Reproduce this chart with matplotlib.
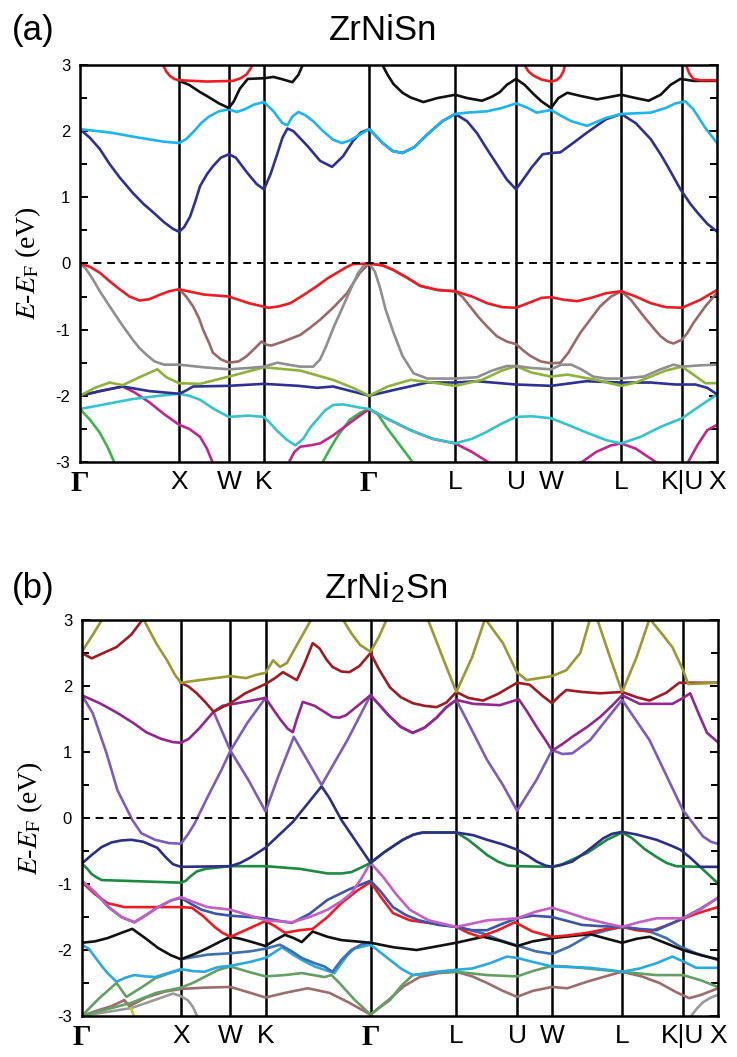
import matplotlib
matplotlib.use("Agg")
import matplotlib.pyplot as plt
from matplotlib.ticker import MultipleLocator

plt.rcParams["font.family"] = ["Liberation Sans", "DejaVu Sans"]
plt.rcParams["mathtext.fontset"] = "stix"
plt.rcParams["axes.unicode_minus"] = False

# high-symmetry path (units of 2pi/a)
KPTS = [0.0, 1.0, 1.5, 1.854, 2.914, 3.780, 4.393, 4.746, 5.453, 6.066, 6.419]
KLABELS = ["Γ", "X", "W", "K", "Γ", "L", "U", "W", "L", "K|U", "X"]
YTICKS = [-3, -2, -1, 0, 1, 2, 3]

# ---------------- (a) ZrNiSn : (k, E) pairs ----------------
A_LBLUE = [(0, 2.03), (0.3, 1.98), (0.6, 1.9), (0.85, 1.84), (1.0, 1.82), (1.07, 1.88), (1.15, 2.0),
           (1.22, 2.12), (1.3, 2.22), (1.4, 2.3), (1.5, 2.33), (1.58, 2.29), (1.66, 2.33), (1.75, 2.4),
           (1.854, 2.44), (1.95, 2.3), (2.04, 2.12), (2.09, 2.09), (2.14, 2.22), (2.2, 2.29), (2.27, 2.24),
           (2.35, 2.15), (2.45, 2.0), (2.55, 1.87), (2.64, 1.82), (2.72, 1.86), (2.8, 1.93), (2.914, 2.03),
           (2.98, 1.93), (3.05, 1.82), (3.15, 1.7), (3.25, 1.67), (3.37, 1.76), (3.5, 1.95), (3.65, 2.15),
           (3.78, 2.26), (3.9, 2.28), (4.1, 2.3), (4.25, 2.35), (4.393, 2.42), (4.5, 2.36), (4.6, 2.28),
           (4.746, 2.32), (4.85, 2.23), (4.95, 2.15), (5.11, 2.08), (5.22, 2.15), (5.3, 2.2), (5.453, 2.26),
           (5.6, 2.27), (5.75, 2.28), (5.9, 2.35), (6.0, 2.42), (6.1, 2.45), (6.18, 2.33), (6.3, 2.05),
           (6.419, 1.82)]
A_NAVY_UP = [(0, 2.03), (0.1, 1.9), (0.2, 1.73), (0.3, 1.5), (0.4, 1.3), (0.53, 1.07), (0.64, 0.9),
             (0.74, 0.77), (0.85, 0.62), (0.94, 0.52), (1.0, 0.48), (1.05, 0.55), (1.11, 0.71), (1.16, 0.93),
             (1.21, 1.17), (1.28, 1.35), (1.34, 1.47), (1.42, 1.6), (1.5, 1.65), (1.57, 1.6), (1.68, 1.38),
             (1.78, 1.2), (1.854, 1.12), (1.92, 1.35), (1.98, 1.62), (2.04, 1.9), (2.09, 2.04), (2.15, 2.0),
             (2.29, 1.78), (2.42, 1.55), (2.54, 1.46), (2.65, 1.62), (2.75, 1.85), (2.83, 1.98), (2.914, 2.03),
             (2.98, 1.93), (3.05, 1.82), (3.15, 1.7), (3.25, 1.67), (3.37, 1.76), (3.5, 1.95), (3.65, 2.15),
             (3.78, 2.26), (3.9, 2.15), (4.0, 1.97), (4.1, 1.73), (4.2, 1.5), (4.3, 1.27), (4.393, 1.12),
             (4.47, 1.28), (4.55, 1.45), (4.66, 1.65), (4.75, 1.67), (4.84, 1.68), (4.95, 1.8), (5.11, 1.98),
             (5.3, 2.18), (5.453, 2.26), (5.6, 2.12), (5.75, 1.88), (5.85, 1.65), (5.92, 1.47), (6.05, 1.12),
             (6.15, 0.9), (6.22, 0.77), (6.32, 0.6), (6.419, 0.48)]
A_BLACK_UP1 = [(1.0, 2.76), (1.1, 2.7), (1.2, 2.6), (1.28, 2.53), (1.4, 2.42), (1.5, 2.35), (1.55, 2.45),
               (1.61, 2.64), (1.69, 2.79), (1.854, 2.8), (1.95, 2.82), (2.05, 2.78), (2.14, 2.74), (2.2, 2.85),
               (2.25, 3.02)]
A_BLACK_UP2 = [(3.04, 3.02), (3.1, 2.85), (3.16, 2.71), (3.25, 2.58), (3.33, 2.51), (3.46, 2.44), (3.6, 2.5),
               (3.78, 2.55), (3.9, 2.5), (4.05, 2.46), (4.15, 2.52), (4.23, 2.59), (4.3, 2.7), (4.393, 2.79),
               (4.48, 2.7), (4.57, 2.56), (4.65, 2.45), (4.746, 2.35), (4.82, 2.5), (4.91, 2.58), (5.05, 2.53),
               (5.21, 2.48), (5.35, 2.52), (5.453, 2.55), (5.6, 2.5), (5.73, 2.46), (5.85, 2.55), (5.95, 2.7),
               (6.05, 2.79), (6.18, 2.76), (6.419, 2.76)]
A_RED_UP1 = [(0.83, 3.02), (0.87, 2.9), (0.91, 2.83), (0.95, 2.79), (1.0, 2.77), (1.28, 2.75), (1.54, 2.76),
             (1.62, 2.8), (1.68, 2.86), (1.72, 2.95), (1.74, 3.02)]
A_RED_UP2 = [(4.47, 3.02), (4.52, 2.9), (4.57, 2.84), (4.65, 2.78), (4.746, 2.75), (4.8, 2.77), (4.84, 2.82),
             (4.87, 2.9), (4.89, 3.02)]
A_RED_UP3 = [(6.1, 3.02), (6.14, 2.87), (6.18, 2.79), (6.25, 2.77), (6.419, 2.77)]
A_RED_VB = [(0, 0), (0.1, -0.05), (0.2, -0.14), (0.3, -0.27), (0.4, -0.39), (0.5, -0.5), (0.6, -0.56),
            (0.7, -0.54), (0.81, -0.47), (0.9, -0.42), (1.0, -0.39), (1.12, -0.43), (1.25, -0.47), (1.5, -0.5),
            (1.7, -0.6), (1.9, -0.67), (2.0, -0.65), (2.12, -0.6), (2.25, -0.48), (2.39, -0.34), (2.5, -0.22),
            (2.59, -0.14), (2.68, -0.06), (2.75, -0.01), (2.914, 0), (3.05, -0.03), (3.16, -0.1), (3.3, -0.22),
            (3.43, -0.34), (3.6, -0.4), (3.78, -0.42), (3.95, -0.5), (4.1, -0.6), (4.25, -0.66), (4.393, -0.67),
            (4.55, -0.58), (4.65, -0.52), (4.746, -0.51), (4.88, -0.55), (5.01, -0.57), (5.15, -0.52),
            (5.3, -0.45), (5.453, -0.42), (5.6, -0.5), (5.75, -0.6), (5.9, -0.66), (6.066, -0.67),
            (6.25, -0.55), (6.419, -0.4)]
A_GRAY = [(0, 0), (0.06, -0.08), (0.13, -0.24), (0.2, -0.42), (0.3, -0.65), (0.42, -0.92), (0.53, -1.15),
          (0.6, -1.28), (0.67, -1.38), (0.75, -1.48), (0.85, -1.53), (1.0, -1.53), (1.25, -1.57), (1.5, -1.6),
          (1.7, -1.58), (1.854, -1.56), (1.99, -1.5), (2.1, -1.53), (2.22, -1.56), (2.35, -1.56), (2.42, -1.45),
          (2.48, -1.25), (2.56, -0.95), (2.65, -0.65), (2.73, -0.38), (2.8, -0.15), (2.86, -0.03), (2.914, 0),
          (2.97, -0.12), (3.02, -0.35), (3.08, -0.7), (3.16, -1.05), (3.25, -1.4), (3.36, -1.66), (3.5, -1.74),
          (3.78, -1.74), (4.0, -1.72), (4.15, -1.62), (4.3, -1.55), (4.393, -1.55), (4.55, -1.58),
          (4.746, -1.6), (4.85, -1.53), (4.95, -1.53), (5.05, -1.6), (5.17, -1.71), (5.3, -1.74),
          (5.453, -1.74), (5.68, -1.71), (5.85, -1.6), (5.98, -1.53), (6.066, -1.56), (6.25, -1.54),
          (6.419, -1.53)]
A_BROWN = [(1.0, -0.39), (1.07, -0.5), (1.14, -0.65), (1.2, -0.83), (1.24, -1.0), (1.3, -1.2), (1.34, -1.35),
           (1.42, -1.45), (1.5, -1.5), (1.6, -1.48), (1.68, -1.4), (1.75, -1.3), (1.83, -1.18), (1.88, -1.23),
           (1.93, -1.24), (2.05, -1.18), (2.22, -1.08), (2.32, -0.97), (2.42, -0.85), (2.55, -0.67),
           (2.69, -0.45), (2.82, -0.14), (2.914, 0), (3.05, -0.03), (3.16, -0.1), (3.3, -0.22), (3.43, -0.34),
           (3.6, -0.4), (3.78, -0.42), (3.85, -0.5), (3.93, -0.65), (4.02, -0.82), (4.1, -0.95), (4.2, -1.1),
           (4.3, -1.18), (4.393, -1.22), (4.47, -1.32), (4.54, -1.4), (4.64, -1.48), (4.746, -1.51),
           (4.84, -1.5), (4.92, -1.35), (4.98, -1.2), (5.04, -1.05), (5.14, -0.85), (5.24, -0.65), (5.35, -0.5),
           (5.453, -0.42), (5.55, -0.55), (5.68, -0.8), (5.78, -0.98), (5.85, -1.1), (5.92, -1.18),
           (5.98, -1.21), (6.066, -1.15), (6.12, -1.05), (6.18, -0.9), (6.3, -0.65), (6.419, -0.44)]
A_YGREEN = [(0, -2.0), (0.15, -1.88), (0.3, -1.8), (0.43, -1.84), (0.6, -1.72), (0.78, -1.6), (0.87, -1.72),
            (1.0, -1.81), (1.21, -1.82), (1.5, -1.71), (1.854, -1.57), (2.22, -1.62), (2.55, -1.76),
            (2.75, -1.88), (2.914, -2.0), (3.1, -1.86), (3.33, -1.76), (3.55, -1.8), (3.78, -1.85), (4.05, -1.76),
            (4.25, -1.62), (4.393, -1.55), (4.55, -1.65), (4.746, -1.71), (4.91, -1.68), (5.2, -1.76),
            (5.453, -1.85), (5.6, -1.8), (5.75, -1.71), (5.9, -1.62), (6.066, -1.56), (6.18, -1.68),
            (6.3, -1.81), (6.419, -1.81)]
A_NAVY_LO = [(0, -2.0), (0.2, -1.93), (0.43, -1.86), (0.7, -1.93), (1.0, -1.97), (1.07, -1.92), (1.14, -1.86),
             (1.5, -1.85), (1.854, -1.82), (2.2, -1.85), (2.39, -1.88), (2.55, -1.86), (2.914, -2.0),
             (3.2, -1.9), (3.5, -1.8), (3.78, -1.8), (4.0, -1.78), (4.393, -1.83), (4.746, -1.85), (5.1, -1.78),
             (5.453, -1.8), (5.75, -1.8), (6.0, -1.83), (6.2, -1.83), (6.32, -1.88), (6.419, -1.98)]
A_CYAN = [(0, -2.2), (0.25, -2.13), (0.53, -2.05), (0.8, -2.0), (1.0, -1.97), (1.1, -2.0), (1.21, -2.06),
          (1.35, -2.2), (1.5, -2.32), (1.7, -2.3), (1.854, -2.32), (1.92, -2.42), (1.98, -2.52), (2.08, -2.66),
          (2.17, -2.75), (2.25, -2.65), (2.32, -2.48), (2.39, -2.36), (2.47, -2.22), (2.55, -2.14),
          (2.65, -2.13), (2.72, -2.15), (2.82, -2.18), (2.914, -2.2), (3.1, -2.35), (3.33, -2.52),
          (3.55, -2.65), (3.78, -2.72), (3.95, -2.65), (4.08, -2.56), (4.25, -2.42), (4.393, -2.32),
          (4.55, -2.31), (4.746, -2.34), (4.95, -2.46), (5.11, -2.56), (5.3, -2.67), (5.453, -2.72),
          (5.65, -2.62), (5.85, -2.47), (6.066, -2.34), (6.25, -2.15), (6.419, -1.98)]
A_MAGENTA1 = [(0, -2.0), (0.2, -1.93), (0.43, -1.86), (0.55, -1.95), (0.7, -2.1), (0.85, -2.28), (1.0, -2.44),
              (1.1, -2.5), (1.21, -2.62), (1.28, -2.8), (1.34, -3.02)]
A_MAGENTA2 = [(2.1, -3.02), (2.16, -2.85), (2.22, -2.77), (2.32, -2.75), (2.42, -2.72), (2.55, -2.6),
              (2.72, -2.41), (2.82, -2.3), (2.914, -2.2), (3.1, -2.35), (3.33, -2.52), (3.55, -2.65),
              (3.78, -2.72), (3.95, -2.85), (4.13, -3.02)]
A_MAGENTA3 = [(5.04, -3.02), (5.2, -2.85), (5.35, -2.75), (5.453, -2.72), (5.6, -2.8), (5.82, -3.02)]
A_MAGENTA4 = [(6.12, -3.02), (6.22, -2.75), (6.32, -2.52), (6.419, -2.44)]
A_GREEN1 = [(0, -2.2), (0.1, -2.36), (0.2, -2.56), (0.28, -2.78), (0.35, -3.02)]
A_GREEN2 = [(2.44, -3.02), (2.52, -2.8), (2.6, -2.6), (2.72, -2.36), (2.82, -2.26), (2.914, -2.2),
            (3.0, -2.28), (3.1, -2.5), (3.2, -2.7), (3.36, -3.02)]

# ---------------- (b) ZrNi2Sn ----------------
B_OLIVE1 = [(0, 2.52), (0.1, 2.75), (0.21, 3.02)]
B_OLIVE2 = [(0.62, 3.02), (0.75, 2.65), (0.86, 2.39), (0.94, 2.17), (1.0, 2.05), (1.19, 2.09), (1.5, 2.15),
            (1.66, 2.12), (1.76, 2.17), (1.854, 2.2), (1.93, 2.39), (2.0, 2.29), (2.07, 2.35), (2.2, 2.7),
            (2.32, 3.02)]
B_OLIVE3 = [(2.63, 3.02), (2.72, 2.8), (2.81, 2.62), (2.914, 2.52), (3.0, 2.75), (3.08, 3.02)]
B_OLIVE4 = [(3.49, 3.02), (3.64, 2.44), (3.78, 1.91), (3.94, 2.44), (4.07, 3.02), (4.25, 2.65), (4.39, 2.21),
            (4.49, 2.09), (4.746, 2.15), (4.89, 2.24), (5.03, 2.5), (5.13, 3.02)]
B_OLIVE5 = [(5.2, 3.02), (5.33, 2.44), (5.453, 1.91), (5.6, 2.44), (5.73, 3.02), (5.85, 2.8), (5.96, 2.59),
            (6.066, 2.25), (6.12, 2.03), (6.419, 2.05)]
B_DRED1 = [(0, 2.5), (0.1, 2.42), (0.35, 2.59), (0.5, 2.78), (0.62, 3.02)]
B_DRED2 = [(1.0, 2.05), (1.08, 1.99), (1.16, 1.89), (1.25, 1.75), (1.33, 1.61), (1.42, 1.68), (1.5, 1.74),
           (1.65, 1.89), (1.854, 2.03), (1.95, 2.12), (2.03, 2.21), (2.1, 2.15), (2.17, 2.09), (2.25, 2.35),
           (2.33, 2.65), (2.4, 2.57), (2.47, 2.4), (2.53, 2.29), (2.62, 2.22), (2.7, 2.21), (2.8, 2.3),
           (2.914, 2.5), (3.0, 2.25), (3.11, 1.98), (3.22, 1.83), (3.34, 1.74), (3.46, 1.7), (3.58, 1.68),
           (3.68, 1.75), (3.78, 1.91), (3.9, 1.82), (4.05, 1.78), (4.2, 1.88), (4.393, 2.05), (4.52, 2.02),
           (4.65, 1.85), (4.746, 1.74), (4.82, 1.85), (4.89, 1.94), (5.05, 1.91), (5.23, 1.89), (5.453, 1.91),
           (5.6, 1.83), (5.73, 1.78), (5.9, 1.9), (6.03, 2.05), (6.2, 2.05), (6.419, 2.05)]
B_PURPLE = [(0, 1.86), (0.18, 1.74), (0.35, 1.6), (0.52, 1.44), (0.65, 1.3), (0.8, 1.2), (0.92, 1.15),
            (1.0, 1.14), (1.08, 1.2), (1.18, 1.35), (1.33, 1.61), (1.42, 1.7), (1.5, 1.72), (1.68, 1.77),
            (1.854, 1.82), (1.93, 1.65), (2.0, 1.5), (2.08, 1.35), (2.13, 1.3), (2.17, 1.5), (2.23, 1.76),
            (2.35, 1.7), (2.53, 1.53), (2.6, 1.52), (2.67, 1.56), (2.8, 1.72), (2.914, 1.86), (3.0, 1.72),
            (3.1, 1.55), (3.22, 1.38), (3.34, 1.29), (3.46, 1.37), (3.58, 1.52), (3.68, 1.68), (3.78, 1.79),
            (3.95, 1.73), (4.22, 1.71), (4.41, 1.8), (4.5, 1.6), (4.59, 1.38), (4.68, 1.18), (4.746, 1.02),
            (4.85, 1.12), (4.95, 1.23), (5.1, 1.38), (5.23, 1.53), (5.35, 1.7), (5.453, 1.86), (5.63, 1.73),
            (5.96, 1.73), (6.07, 1.82), (6.14, 1.89), (6.22, 1.6), (6.31, 1.29), (6.419, 1.15)]
B_LAV1 = [(0, 1.86), (0.11, 1.59), (0.25, 0.98), (0.36, 0.42), (0.51, -0.03), (0.6, -0.23), (0.74, -0.33),
          (0.88, -0.38), (1.0, -0.39), (1.07, -0.25), (1.14, -0.08), (1.27, 0.32), (1.41, 0.73), (1.5, 1.02),
          (1.67, 1.44), (1.854, 1.82)]
B_LAV2 = [(1.33, 1.61), (1.5, 1.02), (1.68, 0.58), (1.854, 0.1), (1.98, 0.62), (2.14, 1.23), (2.42, 0.5),
          (2.68, 1.18), (2.914, 1.86), (3.1, 1.55), (3.22, 1.38), (3.34, 1.29), (3.46, 1.37), (3.58, 1.52),
          (3.68, 1.68), (3.78, 1.79), (3.92, 1.38), (4.09, 0.88), (4.25, 0.5), (4.393, 0.11), (4.59, 0.58),
          (4.746, 1.03), (4.85, 0.97), (4.95, 0.98), (5.13, 1.18), (5.453, 1.79), (5.73, 1.18), (6.066, 0.12),
          (6.27, -0.28), (6.35, -0.36), (6.419, -0.39)]
B_NAVY = [(0, -0.69), (0.1, -0.56), (0.2, -0.44), (0.3, -0.37), (0.4, -0.34), (0.5, -0.33), (0.62, -0.36),
          (0.76, -0.45), (0.85, -0.6), (0.92, -0.7), (1.0, -0.74), (1.5, -0.73), (1.6, -0.68), (1.7, -0.6),
          (1.854, -0.45), (2.13, -0.06), (2.42, 0.48), (2.5, 0.3), (2.62, -0.03), (2.914, -0.68),
          (3.05, -0.52), (3.24, -0.33), (3.35, -0.25), (3.44, -0.22), (3.78, -0.22), (3.95, -0.26),
          (4.09, -0.33), (4.25, -0.4), (4.393, -0.48), (4.5, -0.57), (4.59, -0.66), (4.68, -0.72),
          (4.746, -0.74), (4.82, -0.72), (4.95, -0.66), (5.1, -0.5), (5.26, -0.31), (5.35, -0.24),
          (5.453, -0.21), (5.6, -0.25), (5.8, -0.33), (5.95, -0.42), (6.04, -0.48), (6.14, -0.6),
          (6.24, -0.74), (6.419, -0.74)]
B_GREEN = [(0, -0.69), (0.05, -0.76), (0.1, -0.85), (0.15, -0.9), (0.2, -0.94), (0.6, -0.96), (1.0, -0.98),
           (1.05, -0.95), (1.1, -0.88), (1.16, -0.81), (1.25, -0.77), (1.5, -0.73), (1.854, -0.73),
           (2.2, -0.77), (2.48, -0.84), (2.62, -0.84), (2.72, -0.82), (2.82, -0.75), (2.914, -0.68),
           (3.05, -0.52), (3.24, -0.33), (3.35, -0.25), (3.44, -0.22), (3.78, -0.22), (3.9, -0.33),
           (4.0, -0.45), (4.09, -0.56), (4.2, -0.66), (4.3, -0.72), (4.393, -0.73), (4.746, -0.74),
           (4.85, -0.7), (4.95, -0.63), (5.1, -0.53), (5.3, -0.33), (5.453, -0.22), (5.55, -0.3),
           (5.68, -0.47), (5.8, -0.59), (5.9, -0.68), (6.0, -0.73), (6.24, -0.74), (6.32, -0.85), (6.419, -0.99)]
B_PINK = [(0, -0.95), (0.13, -1.12), (0.27, -1.35), (0.4, -1.5), (0.53, -1.58), (0.65, -1.47), (0.77, -1.35),
          (0.9, -1.25), (1.0, -1.2), (1.14, -1.28), (1.27, -1.35), (1.5, -1.39), (1.7, -1.48), (1.854, -1.55),
          (2.12, -1.58), (2.3, -1.5), (2.48, -1.39), (2.62, -1.26), (2.72, -1.14), (2.82, -0.92),
          (2.914, -0.68), (3.04, -0.89), (3.17, -1.15), (3.31, -1.39), (3.5, -1.55), (3.78, -1.65),
          (3.94, -1.6), (4.09, -1.55), (4.393, -1.52), (4.58, -1.42), (4.746, -1.36), (4.92, -1.44),
          (5.08, -1.52), (5.3, -1.6), (5.453, -1.65), (5.62, -1.58), (5.8, -1.52), (6.066, -1.52),
          (6.25, -1.38), (6.419, -1.21)]
B_BLUE = [(0, -0.95), (0.13, -1.12), (0.27, -1.35), (0.4, -1.5), (0.53, -1.58), (0.65, -1.47), (0.77, -1.35),
          (0.9, -1.25), (1.0, -1.21), (1.1, -1.3), (1.21, -1.39), (1.35, -1.45), (1.5, -1.48), (1.854, -1.52),
          (2.0, -1.56), (2.12, -1.59), (2.3, -1.45), (2.48, -1.24), (2.7, -1.08), (2.914, -0.95), (3.02, -1.12),
          (3.14, -1.35), (3.27, -1.47), (3.4, -1.55), (3.6, -1.62), (3.78, -1.65), (3.94, -1.7), (4.09, -1.7),
          (4.25, -1.6), (4.393, -1.52), (4.55, -1.48), (4.746, -1.5), (4.9, -1.56), (5.05, -1.62),
          (5.25, -1.64), (5.453, -1.65), (5.62, -1.68), (5.8, -1.7), (5.95, -1.6), (6.066, -1.52),
          (6.25, -1.37), (6.419, -1.21)]
B_RED = [(0, -0.97), (0.13, -1.15), (0.26, -1.29), (0.43, -1.35), (1.0, -1.35), (1.11, -1.36), (1.22, -1.48),
         (1.34, -1.65), (1.42, -1.74), (1.5, -1.8), (1.68, -1.68), (1.854, -1.56), (1.95, -1.64), (2.05, -1.74),
         (2.2, -1.7), (2.33, -1.68), (2.48, -1.5), (2.62, -1.29), (2.78, -1.1), (2.914, -0.97), (3.02, -1.2),
         (3.14, -1.44), (3.31, -1.55), (3.55, -1.6), (3.78, -1.65), (3.9, -1.74), (4.02, -1.8), (4.2, -1.7),
         (4.37, -1.58), (4.55, -1.72), (4.746, -1.8), (4.9, -1.78), (5.1, -1.74), (5.3, -1.68), (5.453, -1.65),
         (5.6, -1.7), (5.73, -1.72), (5.88, -1.64), (6.03, -1.55), (6.2, -1.45), (6.419, -1.35)]
B_BLACK = [(0, -1.89), (0.13, -1.87), (0.26, -1.82), (0.4, -1.74), (0.51, -1.68), (0.64, -1.82), (0.77, -1.97),
           (0.9, -2.08), (1.0, -2.14), (1.14, -2.06), (1.27, -1.97), (1.4, -1.87), (1.5, -1.8), (1.6, -1.83),
           (1.72, -1.88), (1.854, -1.94), (1.95, -1.85), (2.05, -1.77), (2.14, -1.82), (2.22, -1.88),
           (2.33, -1.72), (2.48, -1.8), (2.62, -1.85), (2.914, -1.89), (3.15, -1.96), (3.38, -2.0), (3.6, -1.94),
           (3.78, -1.89), (4.05, -1.8), (4.22, -1.86), (4.393, -1.94), (4.55, -1.87), (4.746, -1.82),
           (5.13, -1.76), (5.3, -1.83), (5.453, -1.89), (5.6, -1.83), (5.73, -1.8), (5.9, -1.9), (6.066, -2.0),
           (6.25, -2.08), (6.419, -2.14)]
B_STEEL1 = [(1.0, -2.14), (1.27, -2.07), (1.5, -2.05), (1.7, -2.02), (1.854, -1.98), (2.0, -1.92),
            (2.12, -2.02), (2.22, -2.12), (2.35, -2.2), (2.45, -2.25), (2.53, -2.33), (2.62, -2.15),
            (2.72, -2.0), (2.83, -1.91), (2.914, -1.89)]
B_STEEL2 = [(3.78, -1.65), (3.92, -1.7), (4.05, -1.75), (4.22, -1.85), (4.393, -1.93), (4.58, -2.02),
            (4.746, -2.06), (4.92, -1.95), (5.13, -1.77), (5.3, -1.7), (5.453, -1.65), (5.6, -1.68),
            (5.73, -1.72), (5.9, -1.82), (6.04, -1.95), (6.2, -2.05), (6.419, -2.15)]
B_CYAN = [(0, -1.92), (0.07, -1.98), (0.13, -2.1), (0.2, -2.24), (0.26, -2.35), (0.35, -2.48), (0.44, -2.42),
          (0.53, -2.38), (0.64, -2.4), (0.74, -2.41), (0.87, -2.35), (1.0, -2.29), (1.12, -2.32), (1.24, -2.33),
          (1.37, -2.26), (1.5, -2.24), (1.7, -2.18), (1.854, -2.12), (1.94, -2.04), (2.02, -1.96),
          (2.12, -2.06), (2.22, -2.15), (2.35, -2.25), (2.45, -2.3), (2.55, -2.35), (2.62, -2.2), (2.68, -2.08),
          (2.75, -1.98), (2.914, -1.92), (3.0, -2.02), (3.11, -2.15), (3.22, -2.28), (3.34, -2.38),
          (3.46, -2.36), (3.58, -2.33), (3.78, -2.3), (3.94, -2.28), (4.12, -2.2), (4.29, -2.1),
          (4.393, -2.12), (4.55, -2.18), (4.746, -2.25), (4.95, -2.26), (5.13, -2.27), (5.3, -2.3),
          (5.453, -2.33), (5.63, -2.28), (5.8, -2.2), (5.96, -2.1), (6.08, -2.18), (6.2, -2.27), (6.419, -2.27)]
B_SEAGREEN1 = [(0, -3.0), (0.17, -2.74), (0.35, -2.5), (0.45, -2.71), (0.6, -2.57), (0.74, -2.43),
               (0.87, -2.36), (1.0, -2.3)]
B_SEAGREEN2 = [(0, -3.0), (0.25, -2.9), (0.5, -2.8), (0.75, -2.65), (1.0, -2.57), (1.12, -2.5), (1.25, -2.4),
               (1.38, -2.3), (1.5, -2.25), (1.68, -2.33), (1.854, -2.4), (2.05, -2.38), (2.22, -2.35),
               (2.45, -2.41), (2.52, -2.38), (2.6, -2.5), (2.75, -2.75), (2.914, -2.98), (3.0, -2.88),
               (3.11, -2.76), (3.22, -2.55), (3.34, -2.38), (3.55, -2.34), (3.78, -2.33), (4.09, -2.38),
               (4.393, -2.4), (4.55, -2.32), (4.746, -2.24), (4.9, -2.25), (5.1, -2.28), (5.453, -2.33),
               (5.65, -2.36), (5.8, -2.38), (6.066, -2.38), (6.25, -2.46), (6.419, -2.56)]
B_BROWN = [(0, -3.0), (0.15, -2.92), (0.3, -2.85), (0.43, -2.76), (0.48, -2.85), (0.65, -2.72), (0.84, -2.63),
           (1.0, -2.59), (1.25, -2.57), (1.5, -2.56), (1.68, -2.64), (1.854, -2.72), (2.05, -2.65),
           (2.28, -2.58), (2.5, -2.65), (2.7, -2.8), (2.914, -2.98), (3.1, -2.75), (3.25, -2.55), (3.41, -2.41),
           (3.6, -2.35), (3.78, -2.33), (3.94, -2.4), (4.09, -2.5), (4.25, -2.62), (4.393, -2.71), (4.55, -2.62),
           (4.746, -2.56), (4.9, -2.58), (5.1, -2.48), (5.33, -2.38), (5.453, -2.33), (5.65, -2.4),
           (5.83, -2.5), (6.0, -2.64), (6.13, -2.73), (6.25, -2.68), (6.419, -2.58)]
B_GRAY1 = [(0, -3.0), (0.5, -2.88), (0.75, -2.75), (0.92, -2.66), (1.0, -2.7), (1.07, -2.76), (1.12, -2.86),
           (1.17, -3.02)]
B_GRAY2 = [(6.14, -3.02), (6.2, -2.9), (6.27, -2.79), (6.35, -2.72), (6.419, -2.68)]
B_YELLOW = [(0.42, -2.76), (0.49, -2.86), (0.53, -3.02)]

PANEL_A = [
    (A_GREEN1, "#3cb44a"), (A_GREEN2, "#3cb44a"),
    (A_MAGENTA1, "#c1268d"), (A_MAGENTA2, "#c1268d"), (A_MAGENTA3, "#c1268d"), (A_MAGENTA4, "#c1268d"),
    (A_CYAN, "#35c4cc"), (A_NAVY_LO, "#2e3192"), (A_YGREEN, "#8db33a"),
    (A_BROWN, "#9a6a6a"), (A_GRAY, "#8f8f8f"), (A_RED_VB, "#ed1c24"),
    (A_NAVY_UP, "#2e3192"), (A_LBLUE, "#1cb5ed"),
    (A_BLACK_UP1, "#111111"), (A_BLACK_UP2, "#111111"),
    (A_RED_UP1, "#ed1c24"), (A_RED_UP2, "#ed1c24"), (A_RED_UP3, "#ed1c24"),
]
PANEL_B = [
    (B_GRAY1, "#9a9a9a"), (B_GRAY2, "#9a9a9a"), (B_YELLOW, "#b9cc2a"),
    (B_BROWN, "#9b6e6e"), (B_SEAGREEN1, "#64a064"), (B_SEAGREEN2, "#64a064"),
    (B_CYAN, "#2aaade"), (B_STEEL1, "#3f6fae"), (B_STEEL2, "#3f6fae"), (B_BLACK, "#111111"),
    (B_RED, "#ed1c24"), (B_BLUE, "#3c55a8"), (B_PINK, "#c45fc4"),
    (B_GREEN, "#1d8a42"), (B_NAVY, "#2b3086"),
    (B_LAV1, "#7d5cbd"), (B_LAV2, "#7d5cbd"), (B_PURPLE, "#93278f"),
    (B_DRED1, "#a01c22"), (B_DRED2, "#a01c22"),
    (B_OLIVE1, "#9a9a30"), (B_OLIVE2, "#9a9a30"), (B_OLIVE3, "#9a9a30"),
    (B_OLIVE4, "#9a9a30"), (B_OLIVE5, "#9a9a30"),
]


def draw_panel(ax, bands):
    for band, color in bands:
        ks = [p[0] for p in band]
        es = [p[1] for p in band]
        ax.plot(ks, es, color=color, lw=1.9, solid_joinstyle="round", zorder=2)
    for k in KPTS[1:-1]:
        ax.axvline(k, color="black", lw=1.8, zorder=1)
    ax.axhline(0, color="black", lw=1.4, ls=(0, (4, 3)), zorder=3)

    ax.set_xlim(KPTS[0], KPTS[-1])
    ax.set_ylim(-3, 3)
    ax.set_xticks(KPTS)
    ax.set_xticklabels(KLABELS)
    ax.tick_params(axis="x", length=0, pad=6, labelsize=19)
    for lab in ax.get_xticklabels():
        if lab.get_text() == "Γ":
            lab.set_fontfamily("Liberation Serif")
            lab.set_fontweight("bold")
            lab.set_fontsize(21)

    ax.set_yticks(YTICKS)
    ax.set_yticklabels([str(v) for v in YTICKS])
    ax.yaxis.set_minor_locator(MultipleLocator(0.5))
    ax.tick_params(axis="y", which="both", direction="in", left=True, right=True,
                   width=1.4, labelsize=12, pad=7)
    ax.tick_params(axis="y", which="major", length=6)
    ax.tick_params(axis="y", which="minor", length=5)
    for sp in ax.spines.values():
        sp.set_linewidth(1.8)
    ax.set_ylabel(r"$E$-$E_{\mathrm{F}}$ (eV)", family="Liberation Serif", fontsize=20, labelpad=9)


fig = plt.figure(figsize=(7.37, 10.57), dpi=100)
ax_a = fig.add_axes([0.1085, 0.563, 0.8645, 0.3755])
ax_b = fig.add_axes([0.111, 0.0388, 0.863, 0.3746])

draw_panel(ax_a, PANEL_A)
draw_panel(ax_b, PANEL_B)

fig.text(0.016, 0.9622, "(a)", fontsize=25, ha="left", va="baseline")
fig.text(0.52, 0.9622, "ZrNiSn", fontsize=25, ha="center", va="baseline")
fig.text(0.016, 0.4342, "(b)", fontsize=25, ha="left", va="baseline")
fig.text(0.524, 0.4342, r"ZrNi$_\mathregular{2}$Sn", fontsize=25, ha="center", va="baseline")

fig.savefig("out.png", dpi=100)
